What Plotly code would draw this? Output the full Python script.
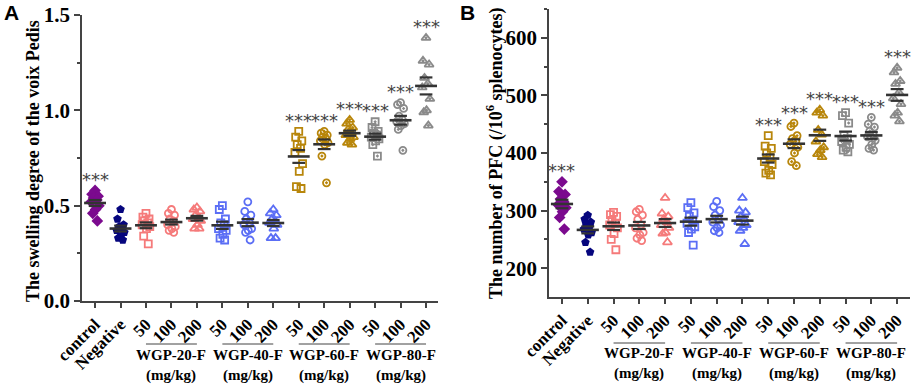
import plotly.graph_objects as go
import numpy as np

categories = ["control", "Negative", "50", "100", "200", "50", "100", "200",
              "50", "100", "200", "50", "100", "200"]
group_names = ["WGP-20-F", "WGP-40-F", "WGP-60-F", "WGP-80-F"]
unit_label = "(mg/kg)"
sig_labels = ["***", "", "", "", "", "", "", "", "***", "***", "***", "***", "***", "***"]

# Panel A: swelling degree of the voix pedis
swell_control = [0.58, 0.56, 0.55, 0.54, 0.53, 0.52, 0.50, 0.48, 0.46, 0.42]
swell_negative = [0.48, 0.43, 0.40, 0.39, 0.38, 0.37, 0.36, 0.34, 0.33, 0.32]
swell_20_50 = [0.46, 0.44, 0.43, 0.42, 0.41, 0.40, 0.39, 0.38, 0.34, 0.30]
swell_20_100 = [0.48, 0.46, 0.45, 0.43, 0.42, 0.40, 0.39, 0.38, 0.37, 0.36]
swell_20_200 = [0.49, 0.48, 0.47, 0.45, 0.44, 0.43, 0.42, 0.40, 0.38, 0.38]
swell_40_50 = [0.50, 0.48, 0.43, 0.41, 0.40, 0.38, 0.37, 0.35, 0.33, 0.32]
swell_40_100 = [0.52, 0.47, 0.45, 0.43, 0.41, 0.40, 0.38, 0.37, 0.36, 0.32]
swell_40_200 = [0.48, 0.46, 0.45, 0.43, 0.42, 0.41, 0.40, 0.38, 0.33, 0.33]
swell_60_50 = [0.89, 0.86, 0.84, 0.82, 0.80, 0.78, 0.72, 0.68, 0.60, 0.59]
swell_60_100 = [0.89, 0.88, 0.87, 0.86, 0.85, 0.84, 0.83, 0.82, 0.76, 0.62]
swell_60_200 = [0.95, 0.93, 0.91, 0.90, 0.88, 0.87, 0.86, 0.85, 0.83, 0.82]
swell_80_50 = [0.94, 0.91, 0.89, 0.88, 0.87, 0.86, 0.85, 0.84, 0.82, 0.76]
swell_80_100 = [1.04, 1.03, 1.01, 0.97, 0.95, 0.94, 0.93, 0.92, 0.90, 0.79]
swell_80_200 = [1.38, 1.26, 1.24, 1.17, 1.14, 1.12, 1.06, 1.00, 0.99, 0.92]

# Panel B: number of PFC (/10^6 splenocytes)
pfc_control = [350, 333, 328, 320, 315, 310, 305, 298, 288, 268]
pfc_negative = [292, 285, 280, 275, 272, 268, 262, 258, 245, 228]
pfc_20_50 = [297, 293, 290, 283, 278, 275, 270, 260, 250, 232]
pfc_20_100 = [302, 298, 292, 285, 275, 270, 262, 258, 252, 248]
pfc_20_200 = [322, 295, 290, 285, 280, 275, 270, 262, 260, 245]
pfc_40_50 = [314, 305, 296, 290, 283, 278, 272, 268, 262, 240]
pfc_40_100 = [316, 307, 300, 292, 285, 280, 275, 270, 265, 262]
pfc_40_200 = [322, 300, 297, 290, 285, 280, 275, 270, 265, 242]
pfc_60_50 = [430, 412, 408, 400, 392, 385, 380, 370, 365, 362]
pfc_60_100 = [452, 446, 430, 425, 420, 415, 410, 400, 385, 378]
pfc_60_200 = [475, 470, 465, 440, 432, 420, 410, 405, 398, 393]
pfc_80_50 = [470, 465, 452, 430, 425, 420, 415, 410, 405, 402]
pfc_80_100 = [462, 450, 445, 438, 432, 428, 422, 415, 408, 405]
pfc_80_200 = [548, 540, 525, 520, 505, 495, 485, 470, 465, 455]

swelling = [swell_control, swell_negative, swell_20_50, swell_20_100, swell_20_200,
            swell_40_50, swell_40_100, swell_40_200, swell_60_50, swell_60_100,
            swell_60_200, swell_80_50, swell_80_100, swell_80_200]
pfc = [pfc_control, pfc_negative, pfc_20_50, pfc_20_100, pfc_20_200,
       pfc_40_50, pfc_40_100, pfc_40_200, pfc_60_50, pfc_60_100,
       pfc_60_200, pfc_80_50, pfc_80_100, pfc_80_200]

PURPLE, NAVY, PINK, BLUE, GOLD, GRAY = "#7b0a8e", "#06067e", "#f57a7a", "#5b6ef5", "#b8860b", "#8a8a8a"
colors = [PURPLE, NAVY, PINK, PINK, PINK, BLUE, BLUE, BLUE, GOLD, GOLD, GOLD, GRAY, GRAY, GRAY]
symbols = ["diamond", "pentagon",
           "square-open", "circle-open", "triangle-up-open",
           "square-open", "circle-open", "triangle-up-open",
           "square-open", "circle-open-dot", "triangle-up-open-dot",
           "square-open-dot", "circle-open-dot", "triangle-up-open-dot"]
sizes = [9, 9, 7, 7, 8, 7, 7, 8, 7, 7, 8, 7, 7, 8]
jitter = [0.0, -0.12, 0.12, -0.06, 0.07, -0.15, 0.15, 0.02, -0.09, 0.09]

fig = go.Figure()
serif = "Liberation Serif"


def add_panel(data, xa, ya):
    for i, vals in enumerate(data):
        xs = [i + jitter[k % len(jitter)] for k in range(len(vals))]
        filled = "open" not in symbols[i]
        fig.add_trace(go.Scatter(
            x=xs, y=vals, mode="markers", xaxis=xa, yaxis=ya, showlegend=False,
            marker=dict(symbol=symbols[i], size=sizes[i], color=colors[i],
                        line=dict(color=colors[i], width=0 if filled else 1.8)),
        ))
    mx, my, sx, sy = [], [], [], []
    for i, vals in enumerate(data):
        arr = np.array(vals, dtype=float)
        m = arr.mean()
        se = arr.std(ddof=1) / np.sqrt(len(arr))
        mx += [i - 0.43, i + 0.43, None]
        my += [m, m, None]
        for v in (m + se, m - se):
            sx += [i - 0.25, i + 0.25, None]
            sy += [v, v, None]
    fig.add_trace(go.Scatter(x=sx, y=sy, mode="lines", xaxis=xa, yaxis=ya, showlegend=False,
                             line=dict(color="#333333", width=2.2)))
    fig.add_trace(go.Scatter(x=mx, y=my, mode="lines", xaxis=xa, yaxis=ya, showlegend=False,
                             line=dict(color="#333333", width=2.6)))


add_panel(swelling, "x", "y")
add_panel(pfc, "x2", "y2")

W, H = 913, 386
xtick = dict(tickvals=list(range(14)), ticktext=categories, tickangle=-45, automargin=False,
             ticks="outside", ticklen=5, tickwidth=1.5, tickcolor="#444",
             showline=True, linecolor="#444", linewidth=1.5, showgrid=False, zeroline=False,
             tickfont=dict(family=serif, size=17, color="black", weight="bold"))
ytick = dict(ticks="outside", ticklen=6, tickwidth=1.5, tickcolor="#444", automargin=False,
             showline=True, linecolor="#444", linewidth=1.5, showgrid=False, zeroline=False,
             tickfont=dict(family=serif, size=21, color="black", weight="bold"))

fig.update_layout(
    width=W, height=H, margin=dict(l=0, r=0, t=0, b=0, autoexpand=False),
    paper_bgcolor="white", plot_bgcolor="white",
    xaxis=dict(domain=[82 / W, 438 / W], range=[-0.513, 13.47], anchor="y", **xtick),
    yaxis=dict(domain=[1 - 301 / H, 1 - 15 / H], range=[0, 1.5], anchor="x",
               tickvals=[0, 0.5, 1.0, 1.5], tickformat=".1f",
               minor=dict(tickvals=[0.25, 0.75, 1.25], ticks="outside", ticklen=3,
                          tickwidth=1.5, tickcolor="#444"), **ytick),
    xaxis2=dict(domain=[549 / W, 910 / W], range=[-0.504, 13.5], anchor="y2", **xtick),
    yaxis2=dict(domain=[1 - 297 / H, 1 - 9 / H], range=[150, 650], anchor="x2",
                tickvals=[200, 300, 400, 500, 600],
                minor=dict(tickvals=[250, 350, 450, 550, 650], ticks="outside", ticklen=3,
                           tickwidth=1.5, tickcolor="#444"), **ytick),
)

ann = []
shapes = []
# axis titles
ann.append(dict(text="The swelling degree of the voix Pedis", x=33 / W, y=1 - 161 / H,
                xref="paper", yref="paper", textangle=-90, showarrow=False,
                xanchor="center", yanchor="middle",
                font=dict(family=serif, size=18, color="black", weight="bold")))
ann.append(dict(text="The number of PFC (/10<sup>6</sup> splenocytes)", x=495 / W, y=1 - 154 / H,
                xref="paper", yref="paper", textangle=-90, showarrow=False,
                xanchor="center", yanchor="middle",
                font=dict(family=serif, size=18, color="black", weight="bold")))
# panel letters
for letter, px in (("A", 11), ("B", 468)):
    ann.append(dict(text=letter, x=px / W, y=1 - 12 / H, xref="paper", yref="paper",
                    showarrow=False, xanchor="center", yanchor="middle",
                    font=dict(family="Liberation Sans", size=21, color="black", weight="bold")))
# group labels
for xr, line_y, txt_y, unit_y in (("x", 344, 355, 375), ("x2", 343, 353, 373)):
    for g, name in enumerate(group_names):
        c = 3 + 3 * g
        shapes.append(dict(type="line", xref=xr, yref="paper", x0=c - 1, x1=c + 1,
                           y0=1 - line_y / H, y1=1 - line_y / H,
                           line=dict(color="#444", width=1)))
        ann.append(dict(text=name, x=c, y=1 - txt_y / H, xref=xr, yref="paper",
                        showarrow=False, xanchor="center", yanchor="middle",
                        font=dict(family=serif, size=15, color="black", weight="bold")))
        ann.append(dict(text=unit_label, x=c, y=1 - unit_y / H, xref=xr, yref="paper",
                        showarrow=False, xanchor="center", yanchor="middle",
                        font=dict(family=serif, size=15, color="black", weight="bold")))
# significance marks
for data, xr, yr in ((swelling, "x", "y"), (pfc, "x2", "y2")):
    for i, s in enumerate(sig_labels):
        if s:
            ann.append(dict(text=s, x=i, y=max(data[i]), xref=xr, yref=yr, showarrow=False,
                            xanchor="center", yanchor="middle", yshift=11,
                            font=dict(family="DejaVu Sans", size=18, color="#444")))

fig.update_layout(annotations=ann, shapes=shapes)
fig.write_html("out.html", config={"displayModeBar": False},
               post_script="document.body.style.margin='0';document.body.style.overflow='hidden';")
